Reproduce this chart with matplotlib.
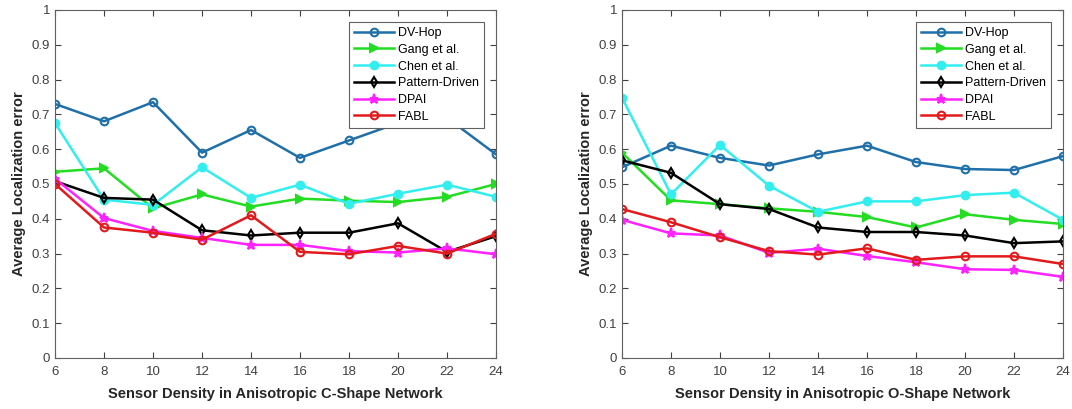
import matplotlib
matplotlib.use('Agg')
import matplotlib.pyplot as plt

plt.rcParams['font.family'] = ['Liberation Sans', 'DejaVu Sans']

density = [6, 8, 10, 12, 14, 16, 18, 20, 22, 24]
methods = ['DV-Hop', 'Gang et al.', 'Chen et al.', 'Pattern-Driven', 'DPAI', 'FABL']

# C-shape network
c_dvhop = [0.73, 0.68, 0.735, 0.59, 0.655, 0.575, 0.625, 0.675, 0.69, 0.585]
c_gang = [0.535, 0.545, 0.43, 0.47, 0.435, 0.458, 0.452, 0.448, 0.463, 0.50]
c_chen = [0.675, 0.455, 0.44, 0.548, 0.46, 0.498, 0.443, 0.472, 0.498, 0.463]
c_pattern = [0.508, 0.46, 0.455, 0.367, 0.352, 0.36, 0.36, 0.387, 0.305, 0.35]
c_dpai = [0.515, 0.402, 0.365, 0.345, 0.325, 0.325, 0.307, 0.303, 0.315, 0.298]
c_fabl = [0.50, 0.375, 0.36, 0.34, 0.41, 0.305, 0.298, 0.322, 0.30, 0.357]

# O-shape network
o_dvhop = [0.548, 0.61, 0.575, 0.553, 0.585, 0.61, 0.563, 0.543, 0.54, 0.58]
o_gang = [0.59, 0.453, 0.442, 0.43, 0.42, 0.405, 0.375, 0.413, 0.397, 0.385]
o_chen = [0.748, 0.47, 0.612, 0.495, 0.42, 0.45, 0.45, 0.468, 0.475, 0.397]
o_pattern = [0.568, 0.532, 0.442, 0.428, 0.375, 0.362, 0.362, 0.352, 0.33, 0.335]
o_dpai = [0.397, 0.358, 0.352, 0.302, 0.314, 0.293, 0.275, 0.255, 0.253, 0.233]
o_fabl = [0.428, 0.39, 0.347, 0.307, 0.297, 0.315, 0.282, 0.292, 0.292, 0.27]

# colour, marker, marker size, filled
styles = [('#1f6fa8', 'o', 5.5, False),
          ('#22dd22', '>', 5.5, True),
          ('#33eeee', 'o', 5.5, True),
          ('black', 'd', 5.5, False),
          ('#ff22ff', '*', 6.5, True),
          ('#e31a1c', 'o', 5.5, False)]

fig = plt.figure(figsize=(10.72, 4.09), dpi=100)
ax1 = fig.add_axes([0.0513, 0.1247, 0.4114, 0.851])
ax2 = fig.add_axes([0.5802, 0.1247, 0.4114, 0.851])

panels = [(ax1, [c_dvhop, c_gang, c_chen, c_pattern, c_dpai, c_fabl], 'C'),
          (ax2, [o_dvhop, o_gang, o_chen, o_pattern, o_dpai, o_fabl], 'O')]

for ax, series, shape in panels:
    for vals, name, (col, mk, ms, filled) in zip(series, methods, styles):
        ax.plot(density, vals, color=col, marker=mk, markersize=ms, linewidth=1.8,
                markeredgewidth=1.5, markerfacecolor=col if filled else 'none',
                label=name)
    ax.set_xlim(6, 24)
    ax.set_ylim(0, 1)
    ax.set_xticks(density)
    ax.set_yticks([i / 10 for i in range(11)])
    ax.set_yticklabels(['0'] + ['%.1f' % (i / 10) for i in range(1, 10)] + ['1'])
    ax.tick_params(direction='in', top=True, right=True, labelsize=9.5, colors='#404040',
                   length=4, width=0.8)
    ax.tick_params(axis='x', pad=6)
    for sp in ax.spines.values():
        sp.set_color('#606060')
        sp.set_linewidth(0.8)
    ax.set_xlabel('Sensor Density in Anisotropic %s-Shape Network' % shape,
                  fontsize=10.5, fontweight='bold', color='#262626', labelpad=6)
    ax.set_ylabel('Average Localization error', fontsize=10.5, fontweight='bold',
                  color='#262626', labelpad=4)
    leg = ax.legend(loc='upper right', bbox_to_anchor=(0.972, 0.965), fontsize=9,
                    fancybox=False, framealpha=1, edgecolor='#606060',
                    handlelength=3.2, handletextpad=0.3, borderpad=0.4,
                    labelspacing=0.38, borderaxespad=0)
    leg.get_frame().set_linewidth(0.8)

fig.savefig('out.png', dpi=100)
